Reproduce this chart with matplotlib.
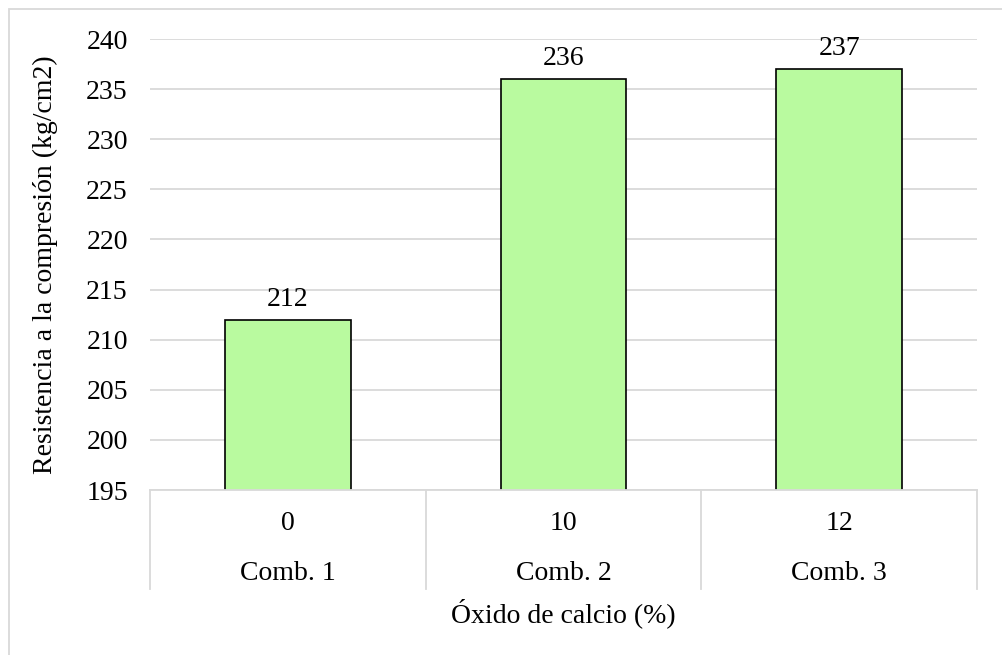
import matplotlib
matplotlib.use("Agg")
import matplotlib.pyplot as plt
import matplotlib.transforms as mtransforms
from matplotlib.patches import Rectangle
import numpy as np

plt.rcParams['font.family'] = ['Liberation Serif', 'DejaVu Serif']

oxide_pct = ["0", "10", "12"]
combos = ["Comb. 1", "Comb. 2", "Comb. 3"]
resistance = [212, 236, 237]
y_ticks = [195, 200, 205, 210, 215, 220, 225, 230, 235, 240]

FS = 20
W, H = 1003, 655
fig = plt.figure(figsize=(W / 100, H / 100), dpi=100)
L, R, T, B = 150, 977, 39, 490
ax = fig.add_axes([L / W, (H - B) / H, (R - L) / W, (B - T) / H])

x = np.arange(len(resistance))
ax.bar(x, resistance, width=0.457, color="#B9FA9F", edgecolor="black",
       linewidth=1.2, zorder=2)
ax.set_xlim(-0.5, len(resistance) - 0.5)
ax.set_ylim(195, 240)
ax.set_yticks(y_ticks)
ax.tick_params(axis='y', length=0, labelsize=FS, pad=16)
ax.set_xticks([])
ax.grid(axis='y', color="#D9D9D9", linewidth=1.3, zorder=0)
for s in ["top", "right", "left"]:
    ax.spines[s].set_visible(False)
ax.spines["bottom"].set_color("#D9D9D9")
ax.spines["bottom"].set_linewidth(1.3)
ax.spines["bottom"].set_zorder(3)

for xi, v in zip(x, resistance):
    ax.annotate(str(v), (xi, v), xytext=(0, 5.5), textcoords="offset points",
                ha="center", va="bottom", fontsize=FS)

trans = mtransforms.blended_transform_factory(ax.transData, ax.transAxes)
sep_bottom = -(589 - B) / (B - T)
for b in np.arange(len(resistance) + 1) - 0.5:
    ax.plot([b, b], [0, sep_bottom], transform=trans, color="#D9D9D9",
            linewidth=1.3, clip_on=False)

y_top = -(523 - B) / (B - T)
y_comb = -(574 - B) / (B - T)
for xi, p, c in zip(x, oxide_pct, combos):
    ax.text(xi, y_top, p, transform=trans, ha="center", va="center", fontsize=FS)
    ax.text(xi, y_comb, c, transform=trans, ha="center", va="center", fontsize=FS)

ax.text(0.5, -(613 - B) / (B - T), "Óxido de calcio (%)", transform=ax.transAxes,
        ha="center", va="center", fontsize=FS)
ax.text((45 - L) / (R - L), 0.5, "Resistencia a la compresión (kg/cm2)",
        transform=ax.transAxes, rotation=90, ha="center", va="center", fontsize=FS)

fig.patches.append(Rectangle((9.5 / W, -0.1), 1.2, (H - 9.5) / H + 0.1,
                             transform=fig.transFigure, fill=False,
                             edgecolor="#D9D9D9", linewidth=1.3))

fig.savefig("out.png", dpi=100)
